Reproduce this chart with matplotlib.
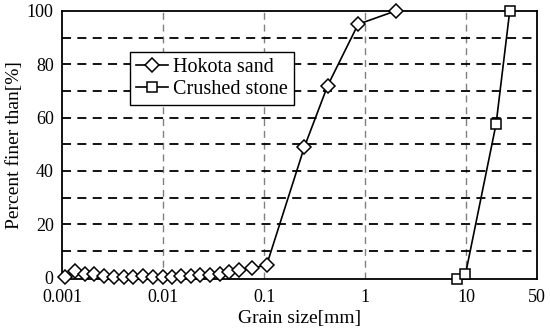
import matplotlib
matplotlib.use("Agg")
import matplotlib.pyplot as plt
from matplotlib.ticker import FixedLocator, NullLocator

plt.rcParams['font.family'] = ['Liberation Serif', 'DejaVu Serif']

# Hokota sand
hokota_size = [0.00107, 0.00135, 0.00169, 0.00209, 0.00263, 0.00329, 0.0041, 0.00508,
               0.0063, 0.0079, 0.0099, 0.0122, 0.0151, 0.0188, 0.0232, 0.0292, 0.0366,
               0.0453, 0.0569, 0.075, 0.106, 0.25, 0.425, 0.85, 2.0]
hokota_pct = [0.4, 2.6, 1.2, 1.2, 0.7, 0.2, 0.2, 0.2, 0.6, 0.2, 0.2, 0.3, 0.7, 0.8,
              0.9, 1.1, 1.5, 2.1, 2.9, 3.5, 4.8, 49.0, 72.0, 95.0, 100.0]
# Crushed stone
stone_size = [8.1, 9.8, 19.7, 26.9]
stone_pct = [-0.6, 1.2, 57.6, 100.0]

xticks = [0.001, 0.01, 0.1, 1, 10, 50]
xticklabels = ["0.001", "0.01", "0.1", "1", "10", "50"]
yticks = [0, 20, 40, 60, 80, 100]

fig = plt.figure(figsize=(5.5, 3.31), dpi=100)
ax = fig.add_axes([0.1127, 0.157, 0.8636, 0.810])

ax.set_xscale('log')
ax.set_xlim(0.001, 50)
ax.set_ylim(-0.5, 100)

# grid lines
for xv in [0.01, 0.1, 1, 10]:
    ax.axvline(xv, color='#808080', lw=1.0, ls=(0, (5, 3.5)), zorder=1)
for yv in range(10, 100, 10):
    ax.axhline(yv, color='black', lw=1.3, ls=(0, (5, 3.5)), zorder=1)

ax.plot(hokota_size, hokota_pct, color='black', lw=1.2, marker='D', markersize=7,
        markerfacecolor='white', markeredgecolor='black', markeredgewidth=1.1,
        label='Hokota sand', zorder=3, clip_on=False)
ax.plot(stone_size, stone_pct, color='black', lw=1.2, marker='s', markersize=7.5,
        markerfacecolor='white', markeredgecolor='black', markeredgewidth=1.1,
        label='Crushed stone', zorder=3, clip_on=False)

ax.xaxis.set_major_locator(FixedLocator(xticks))
ax.xaxis.set_minor_locator(NullLocator())
ax.set_xticklabels(xticklabels)
ax.set_yticks(yticks)
ax.tick_params(axis='both', length=0, labelsize=13)
ax.tick_params(axis='y', pad=6)
ax.tick_params(axis='x', pad=7)

for s in ax.spines.values():
    s.set_linewidth(1.3)
    s.set_color('black')

ax.set_xlabel('Grain size[mm]', fontsize=14, labelpad=3)
ax.set_ylabel('Percent finer than[%]', fontsize=14, labelpad=3)

leg = ax.legend(loc='upper left', bbox_to_anchor=(0.143, 0.848), fontsize=14.5,
                frameon=True, fancybox=False, edgecolor='black', framealpha=1,
                handlelength=1.6, handletextpad=0.25, borderpad=0.3,
                labelspacing=0.15, borderaxespad=0)
leg.get_frame().set_linewidth(1.0)

fig.savefig('out.png', dpi=100)
